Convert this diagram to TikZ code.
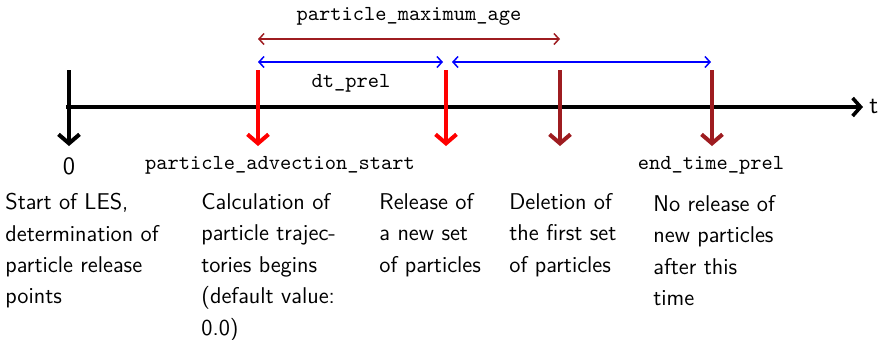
\documentclass[tikz,border=0pt]{standalone}
\usetikzlibrary{arrows.meta,calc}
\definecolor{darkred}{RGB}{158,28,32}
\tikzset{
  axisline/.style={line width=1.8pt,-{Straight Barb[length=4pt,width=9pt]}},
  tick/.style={line width=2pt,-{Straight Barb[length=4.5pt,width=10.5pt]}},
  span/.style={line width=0.75pt,{Straight Barb[length=2.5pt,width=5.5pt]}-{Straight Barb[length=2.5pt,width=5.5pt]}},
  mono/.style={font=\fontsize{10.7}{12}\ttfamily},
  desc/.style={font=\fontsize{11.4}{15.7}\selectfont\sffamily,align=left,anchor=north west,inner sep=0pt},
}
\begin{document}
\begin{tikzpicture}[x=0.5pt,y=-0.5pt]
\useasboundingbox (0,0) rectangle (885,339);
% time axis
\coordinate (ax0) at (66,107);
\coordinate (ax1) at (863,107);
\draw[axisline] (ax0) -- (ax1);
\node[font=\fontsize{12.5}{14}\selectfont\sffamily,anchor=west,inner sep=0pt] (tlab) at (869,106) {t};
% event markers
\foreach \n/\x/\c in {m0/69/black,m1/258/red,m2/446/red,m3/560/darkred,m4/712/darkred}{
  \coordinate (\n top) at (\x,70);
  \coordinate (\n bot) at (\x,146);
  \draw[tick,\c] (\n top) -- (\n bot);
}
% durations
\coordinate (age0) at (258,39);
\coordinate (age1) at (560,39);
\draw[span,darkred] (age0) -- (age1);
\node[mono] (agelab) at (409,16) {particle\_maximum\_age};
\coordinate (dt0) at (258,62);
\coordinate (dt1) at (443,62);
\coordinate (dt2) at (452,62);
\coordinate (dt3) at (711,62);
\draw[span,blue] (dt0) -- (dt1);
\draw[span,blue] (dt2) -- (dt3);
\node[mono] (dtlab) at (351,83) {dt\_prel};
% marker labels
\node[font=\fontsize{12.5}{14}\selectfont\sffamily] (zero) at (69,166) {0};
\node[mono] (pas) at (280,165) {particle\_advection\_start};
\node[mono] (etp) at (711,165) {end\_time\_prel};
% descriptions
\node[desc] (d0) at (5,193) {Start of LES,\\determination of\\particle release\\points};
\node[desc] (d1) at (201,193) {Calculation of\\particle trajec-\\tories begins\\(default value:\\0.0)};
\node[desc] (d2) at (379,193) {Release of\\a new set\\of particles};
\node[desc] (d3) at (509,193) {Deletion of\\the first set\\of particles};
\node[desc] (d4) at (653,195) {No release of\\new particles\\after this\\time};
\end{tikzpicture}
\end{document}
